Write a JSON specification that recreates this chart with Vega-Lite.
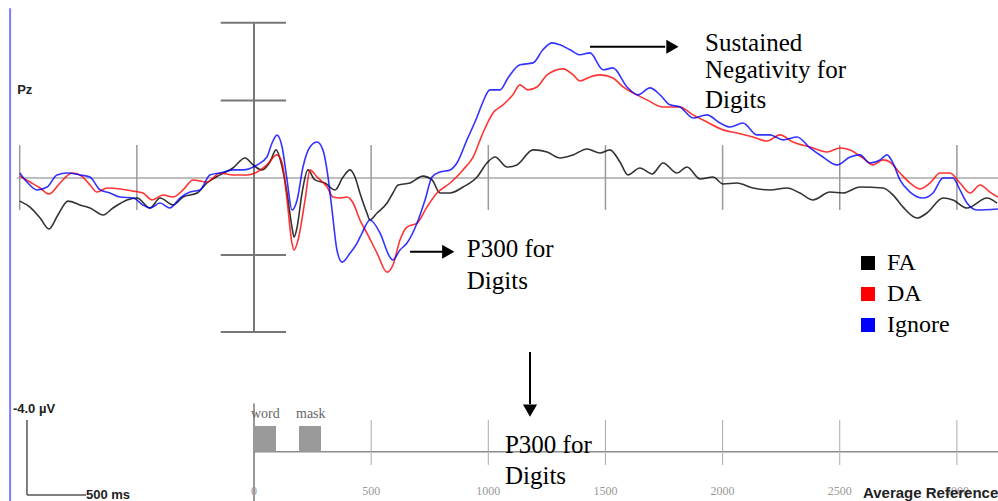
{
"$schema":"https://vega.github.io/schema/vega-lite/v6.json",
"width":998,"height":501,"autosize":"none","padding":0,"background":"#ffffff",
"config":{"view":{"stroke":null},"axis":{"disable":true}},
"datasets":{
"erp":[
{"cond":"FA","t":-1000,"uV":1.20},{"cond":"FA","t":-956,"uV":1.51},{"cond":"FA","t":-913,"uV":2.08},{"cond":"FA","t":-875,"uV":2.65},{"cond":"FA","t":-837,"uV":1.92},{"cond":"FA","t":-794,"uV":1.20},{"cond":"FA","t":-743,"uV":1.40},{"cond":"FA","t":-700,"uV":1.56},{"cond":"FA","t":-644,"uV":1.92},{"cond":"FA","t":-602,"uV":1.56},{"cond":"FA","t":-542,"uV":1.14},{"cond":"FA","t":-499,"uV":1.04},{"cond":"FA","t":-444,"uV":1.56},{"cond":"FA","t":-401,"uV":1.04},{"cond":"FA","t":-346,"uV":1.40},{"cond":"FA","t":-303,"uV":0.99},{"cond":"FA","t":-243,"uV":0.78},{"cond":"FA","t":-201,"uV":0.26},{"cond":"FA","t":-145,"uV":-0.16},{"cond":"FA","t":-90,"uV":-0.52},{"cond":"FA","t":-38,"uV":-1.04},{"cond":"FA","t":-4,"uV":-0.68},{"cond":"FA","t":34,"uV":-0.42},{"cond":"FA","t":68,"uV":-0.83},{"cond":"FA","t":94,"uV":-1.46},{"cond":"FA","t":120,"uV":-0.57},{"cond":"FA","t":141,"uV":0.78},{"cond":"FA","t":162,"uV":2.55},{"cond":"FA","t":171,"uV":3.07},{"cond":"FA","t":184,"uV":2.55},{"cond":"FA","t":205,"uV":0.78},{"cond":"FA","t":230,"uV":-0.42},{"cond":"FA","t":260,"uV":0.10},{"cond":"FA","t":303,"uV":0.26},{"cond":"FA","t":346,"uV":0.62},{"cond":"FA","t":380,"uV":-0.05},{"cond":"FA","t":410,"uV":-0.42},{"cond":"FA","t":431,"uV":-0.05},{"cond":"FA","t":452,"uV":0.78},{"cond":"FA","t":482,"uV":1.82},{"cond":"FA","t":495,"uV":2.18},{"cond":"FA","t":525,"uV":1.82},{"cond":"FA","t":568,"uV":1.30},{"cond":"FA","t":593,"uV":0.78},{"cond":"FA","t":615,"uV":0.36},{"cond":"FA","t":666,"uV":0.26},{"cond":"FA","t":721,"uV":-0.10},{"cond":"FA","t":760,"uV":0.10},{"cond":"FA","t":794,"uV":0.78},{"cond":"FA","t":837,"uV":0.78},{"cond":"FA","t":892,"uV":0.47},{"cond":"FA","t":952,"uV":-0.05},{"cond":"FA","t":994,"uV":-0.78},{"cond":"FA","t":1029,"uV":-1.09},{"cond":"FA","t":1080,"uV":-0.57},{"cond":"FA","t":1122,"uV":-0.68},{"cond":"FA","t":1191,"uV":-1.46},{"cond":"FA","t":1251,"uV":-1.35},{"cond":"FA","t":1306,"uV":-1.04},{"cond":"FA","t":1362,"uV":-1.20},{"cond":"FA","t":1421,"uV":-1.51},{"cond":"FA","t":1477,"uV":-1.30},{"cond":"FA","t":1519,"uV":-1.46},{"cond":"FA","t":1562,"uV":-0.83},{"cond":"FA","t":1596,"uV":-0.16},{"cond":"FA","t":1647,"uV":-0.52},{"cond":"FA","t":1699,"uV":-0.21},{"cond":"FA","t":1746,"uV":-0.78},{"cond":"FA","t":1805,"uV":-0.26},{"cond":"FA","t":1848,"uV":-0.57},{"cond":"FA","t":1904,"uV":0.05},{"cond":"FA","t":1959,"uV":-0.05},{"cond":"FA","t":2002,"uV":0.31},{"cond":"FA","t":2061,"uV":0.26},{"cond":"FA","t":2130,"uV":0.52},{"cond":"FA","t":2202,"uV":0.62},{"cond":"FA","t":2275,"uV":0.52},{"cond":"FA","t":2330,"uV":0.78},{"cond":"FA","t":2386,"uV":1.14},{"cond":"FA","t":2458,"uV":0.73},{"cond":"FA","t":2514,"uV":0.78},{"cond":"FA","t":2586,"uV":0.47},{"cond":"FA","t":2685,"uV":0.52},{"cond":"FA","t":2727,"uV":0.88},{"cond":"FA","t":2770,"uV":1.51},{"cond":"FA","t":2830,"uV":2.08},{"cond":"FA","t":2872,"uV":1.82},{"cond":"FA","t":2941,"uV":1.04},{"cond":"FA","t":2983,"uV":1.14},{"cond":"FA","t":3043,"uV":1.56},{"cond":"FA","t":3128,"uV":1.04},{"cond":"FA","t":3171,"uV":1.30},
{"cond":"DA","t":-1000,"uV":-0.10},{"cond":"DA","t":-956,"uV":0.21},{"cond":"DA","t":-913,"uV":0.52},{"cond":"DA","t":-875,"uV":0.83},{"cond":"DA","t":-828,"uV":0.26},{"cond":"DA","t":-777,"uV":-0.26},{"cond":"DA","t":-743,"uV":-0.16},{"cond":"DA","t":-700,"uV":0.36},{"cond":"DA","t":-670,"uV":0.73},{"cond":"DA","t":-627,"uV":0.52},{"cond":"DA","t":-572,"uV":0.57},{"cond":"DA","t":-516,"uV":0.68},{"cond":"DA","t":-474,"uV":0.78},{"cond":"DA","t":-435,"uV":1.14},{"cond":"DA","t":-388,"uV":0.88},{"cond":"DA","t":-346,"uV":0.99},{"cond":"DA","t":-303,"uV":0.62},{"cond":"DA","t":-260,"uV":0.10},{"cond":"DA","t":-201,"uV":0.21},{"cond":"DA","t":-145,"uV":-0.26},{"cond":"DA","t":-90,"uV":-0.16},{"cond":"DA","t":-30,"uV":-0.16},{"cond":"DA","t":13,"uV":-0.31},{"cond":"DA","t":55,"uV":-0.68},{"cond":"DA","t":98,"uV":-1.20},{"cond":"DA","t":120,"uV":-0.78},{"cond":"DA","t":141,"uV":1.14},{"cond":"DA","t":162,"uV":3.38},{"cond":"DA","t":171,"uV":3.74},{"cond":"DA","t":188,"uV":3.22},{"cond":"DA","t":218,"uV":1.14},{"cond":"DA","t":239,"uV":-0.42},{"cond":"DA","t":269,"uV":-0.05},{"cond":"DA","t":312,"uV":0.47},{"cond":"DA","t":337,"uV":0.99},{"cond":"DA","t":367,"uV":1.04},{"cond":"DA","t":397,"uV":0.99},{"cond":"DA","t":423,"uV":1.30},{"cond":"DA","t":452,"uV":2.18},{"cond":"DA","t":482,"uV":2.86},{"cond":"DA","t":525,"uV":3.90},{"cond":"DA","t":568,"uV":4.89},{"cond":"DA","t":593,"uV":4.52},{"cond":"DA","t":623,"uV":3.22},{"cond":"DA","t":653,"uV":2.55},{"cond":"DA","t":696,"uV":2.34},{"cond":"DA","t":738,"uV":1.51},{"cond":"DA","t":781,"uV":0.78},{"cond":"DA","t":837,"uV":0.26},{"cond":"DA","t":892,"uV":-0.42},{"cond":"DA","t":935,"uV":-1.09},{"cond":"DA","t":977,"uV":-2.34},{"cond":"DA","t":1020,"uV":-3.38},{"cond":"DA","t":1063,"uV":-3.80},{"cond":"DA","t":1105,"uV":-4.32},{"cond":"DA","t":1135,"uV":-4.84},{"cond":"DA","t":1169,"uV":-4.58},{"cond":"DA","t":1208,"uV":-4.73},{"cond":"DA","t":1251,"uV":-5.36},{"cond":"DA","t":1319,"uV":-5.67},{"cond":"DA","t":1362,"uV":-5.36},{"cond":"DA","t":1391,"uV":-5.04},{"cond":"DA","t":1434,"uV":-5.25},{"cond":"DA","t":1477,"uV":-5.36},{"cond":"DA","t":1532,"uV":-5.20},{"cond":"DA","t":1575,"uV":-4.73},{"cond":"DA","t":1618,"uV":-4.42},{"cond":"DA","t":1677,"uV":-4.06},{"cond":"DA","t":1746,"uV":-3.69},{"cond":"DA","t":1818,"uV":-3.69},{"cond":"DA","t":1874,"uV":-3.28},{"cond":"DA","t":1933,"uV":-2.91},{"cond":"DA","t":2002,"uV":-2.50},{"cond":"DA","t":2061,"uV":-2.34},{"cond":"DA","t":2130,"uV":-2.13},{"cond":"DA","t":2190,"uV":-1.92},{"cond":"DA","t":2245,"uV":-2.24},{"cond":"DA","t":2300,"uV":-1.87},{"cond":"DA","t":2373,"uV":-1.61},{"cond":"DA","t":2446,"uV":-1.35},{"cond":"DA","t":2501,"uV":-1.56},{"cond":"DA","t":2544,"uV":-1.46},{"cond":"DA","t":2599,"uV":-1.04},{"cond":"DA","t":2642,"uV":-0.68},{"cond":"DA","t":2685,"uV":-0.94},{"cond":"DA","t":2714,"uV":-0.83},{"cond":"DA","t":2757,"uV":-0.26},{"cond":"DA","t":2800,"uV":0.26},{"cond":"DA","t":2842,"uV":0.57},{"cond":"DA","t":2885,"uV":0.26},{"cond":"DA","t":2928,"uV":-0.26},{"cond":"DA","t":2970,"uV":-0.26},{"cond":"DA","t":3013,"uV":0.26},{"cond":"DA","t":3056,"uV":0.78},{"cond":"DA","t":3099,"uV":0.36},{"cond":"DA","t":3141,"uV":0.73},{"cond":"DA","t":3175,"uV":0.99},
{"cond":"Ignore","t":-1000,"uV":-0.26},{"cond":"Ignore","t":-969,"uV":0.21},{"cond":"Ignore","t":-926,"uV":0.62},{"cond":"Ignore","t":-883,"uV":0.47},{"cond":"Ignore","t":-841,"uV":-0.16},{"cond":"Ignore","t":-798,"uV":-0.26},{"cond":"Ignore","t":-743,"uV":-0.16},{"cond":"Ignore","t":-700,"uV":-0.05},{"cond":"Ignore","t":-657,"uV":0.62},{"cond":"Ignore","t":-615,"uV":0.78},{"cond":"Ignore","t":-572,"uV":0.99},{"cond":"Ignore","t":-516,"uV":1.04},{"cond":"Ignore","t":-474,"uV":1.40},{"cond":"Ignore","t":-444,"uV":1.56},{"cond":"Ignore","t":-401,"uV":1.30},{"cond":"Ignore","t":-359,"uV":1.56},{"cond":"Ignore","t":-316,"uV":1.04},{"cond":"Ignore","t":-273,"uV":0.73},{"cond":"Ignore","t":-230,"uV":0.62},{"cond":"Ignore","t":-188,"uV":-0.16},{"cond":"Ignore","t":-145,"uV":-0.26},{"cond":"Ignore","t":-90,"uV":-0.42},{"cond":"Ignore","t":-47,"uV":-0.42},{"cond":"Ignore","t":13,"uV":-0.68},{"cond":"Ignore","t":55,"uV":-1.09},{"cond":"Ignore","t":77,"uV":-1.82},{"cond":"Ignore","t":98,"uV":-2.23},{"cond":"Ignore","t":120,"uV":-1.61},{"cond":"Ignore","t":141,"uV":0.10},{"cond":"Ignore","t":162,"uV":1.66},{"cond":"Ignore","t":184,"uV":1.14},{"cond":"Ignore","t":209,"uV":-0.57},{"cond":"Ignore","t":239,"uV":-1.61},{"cond":"Ignore","t":269,"uV":-1.87},{"cond":"Ignore","t":294,"uV":-1.46},{"cond":"Ignore","t":316,"uV":-0.05},{"cond":"Ignore","t":333,"uV":1.66},{"cond":"Ignore","t":354,"uV":3.74},{"cond":"Ignore","t":376,"uV":4.37},{"cond":"Ignore","t":410,"uV":3.90},{"cond":"Ignore","t":440,"uV":3.38},{"cond":"Ignore","t":461,"uV":2.86},{"cond":"Ignore","t":495,"uV":2.18},{"cond":"Ignore","t":538,"uV":2.86},{"cond":"Ignore","t":580,"uV":4.11},{"cond":"Ignore","t":593,"uV":4.26},{"cond":"Ignore","t":623,"uV":3.74},{"cond":"Ignore","t":653,"uV":3.38},{"cond":"Ignore","t":696,"uV":2.34},{"cond":"Ignore","t":730,"uV":1.14},{"cond":"Ignore","t":760,"uV":-0.05},{"cond":"Ignore","t":794,"uV":-0.31},{"cond":"Ignore","t":837,"uV":-0.42},{"cond":"Ignore","t":866,"uV":-0.78},{"cond":"Ignore","t":909,"uV":-1.98},{"cond":"Ignore","t":952,"uV":-3.17},{"cond":"Ignore","t":977,"uV":-3.95},{"cond":"Ignore","t":1007,"uV":-4.58},{"cond":"Ignore","t":1050,"uV":-4.58},{"cond":"Ignore","t":1084,"uV":-5.20},{"cond":"Ignore","t":1135,"uV":-5.88},{"cond":"Ignore","t":1191,"uV":-5.98},{"cond":"Ignore","t":1233,"uV":-6.66},{"cond":"Ignore","t":1272,"uV":-7.02},{"cond":"Ignore","t":1306,"uV":-6.92},{"cond":"Ignore","t":1349,"uV":-6.66},{"cond":"Ignore","t":1391,"uV":-6.40},{"cond":"Ignore","t":1434,"uV":-6.50},{"cond":"Ignore","t":1490,"uV":-5.62},{"cond":"Ignore","t":1532,"uV":-5.72},{"cond":"Ignore","t":1592,"uV":-4.73},{"cond":"Ignore","t":1639,"uV":-4.32},{"cond":"Ignore","t":1690,"uV":-4.68},{"cond":"Ignore","t":1733,"uV":-4.32},{"cond":"Ignore","t":1775,"uV":-3.80},{"cond":"Ignore","t":1818,"uV":-3.69},{"cond":"Ignore","t":1874,"uV":-3.12},{"cond":"Ignore","t":1933,"uV":-3.28},{"cond":"Ignore","t":1989,"uV":-2.86},{"cond":"Ignore","t":2032,"uV":-2.65},{"cond":"Ignore","t":2087,"uV":-2.86},{"cond":"Ignore","t":2147,"uV":-2.24},{"cond":"Ignore","t":2202,"uV":-2.24},{"cond":"Ignore","t":2258,"uV":-1.98},{"cond":"Ignore","t":2318,"uV":-2.13},{"cond":"Ignore","t":2373,"uV":-1.56},{"cond":"Ignore","t":2428,"uV":-1.09},{"cond":"Ignore","t":2488,"uV":-0.68},{"cond":"Ignore","t":2544,"uV":-1.09},{"cond":"Ignore","t":2586,"uV":-1.20},{"cond":"Ignore","t":2629,"uV":-0.78},{"cond":"Ignore","t":2672,"uV":-0.94},{"cond":"Ignore","t":2702,"uV":-1.20},{"cond":"Ignore","t":2727,"uV":-0.78},{"cond":"Ignore","t":2757,"uV":0.10},{"cond":"Ignore","t":2800,"uV":0.73},{"cond":"Ignore","t":2855,"uV":1.04},{"cond":"Ignore","t":2898,"uV":0.78},{"cond":"Ignore","t":2941,"uV":0.00},{"cond":"Ignore","t":2983,"uV":0.00},{"cond":"Ignore","t":3013,"uV":0.62},{"cond":"Ignore","t":3043,"uV":1.30},{"cond":"Ignore","t":3086,"uV":1.66},{"cond":"Ignore","t":3175,"uV":1.61}
],
"smallTicks":[{"t":-1000},{"t":-500},{"t":500},{"t":1000},{"t":1500},{"t":2000},{"t":2500},{"t":3000}],
"calib":[{"uV":-8.07},{"uV":-4.02},{"uV":4.0},{"uV":8.0}],
"timeTicks":[{"t":0},{"t":500},{"t":1000},{"t":1500},{"t":2000},{"t":2500},{"t":3000}],
"stim":[{"stim":"word","on":0,"off":94},{"stim":"mask","on":192,"off":286}],
"notes":[{"t":1925,"uV":-6.60,"txt":"Sustained"},{"t":1925,"uV":-5.19,"txt":"Negativity for"},{"t":1925,"uV":-3.66,"txt":"Digits"},{"t":908,"uV":4.12,"txt":"P300 for"},{"t":908,"uV":5.78,"txt":"Digits"},{"t":1071,"uV":14.27,"txt":"P300 for"},{"t":1071,"uV":15.91,"txt":"Digits"}],
"arrows":[{"t":1434,"t2":1755,"uV":-6.82,"uV2":-6.82},{"t":666,"t2":805,"uV":3.83,"uV2":3.83},{"t":1178,"t2":1178,"uV":9.04,"uV2":11.75}],
"heads":[{"t":1786,"uV":-6.82,"dir":"right"},{"t":829,"uV":3.83,"dir":"right"},{"t":1178,"uV":12.08,"dir":"down"}]
},
"layer":[
{"data":{"values":[{}]},"mark":{"type":"rule","color":"#7c7cff","strokeWidth":2},
 "encoding":{"x":{"datum":-1041,"type":"quantitative","scale":{"domain":[-1084.1,3175.4],"nice":false,"zero":false},"axis":null},
  "y":{"datum":-8.82,"type":"quantitative","scale":{"domain":[-9.247,16.779],"nice":false,"zero":false,"reverse":true},"axis":null},"y2":{"datum":16.78}}},
{"data":{"values":[{}]},"mark":{"type":"rule","color":"#a8a8a8","strokeWidth":1.5},
 "encoding":{"x":{"datum":-1011,"type":"quantitative"},"x2":{"datum":3180},"y":{"datum":0,"type":"quantitative"}}},
{"data":{"name":"smallTicks"},"mark":{"type":"rule","color":"#9a9a9a","strokeWidth":1.5},
 "encoding":{"x":{"field":"t","type":"quantitative"},"y":{"datum":-1.71,"type":"quantitative"},"y2":{"datum":1.66}}},
{"data":{"values":[{}]},"mark":{"type":"rule","color":"#777777","strokeWidth":2},
 "encoding":{"x":{"datum":0,"type":"quantitative"},"y":{"datum":-8.07,"type":"quantitative"},"y2":{"datum":8.0}}},
{"data":{"name":"calib"},"mark":{"type":"rule","color":"#777777","strokeWidth":2},
 "encoding":{"x":{"datum":-142,"type":"quantitative"},"x2":{"datum":137},"y":{"field":"uV","type":"quantitative"}}},
{"data":{"values":[{}]},"mark":{"type":"rule","color":"#8c8c8c","strokeWidth":1.5},
 "encoding":{"x":{"datum":0,"type":"quantitative"},"x2":{"datum":3180},"y":{"datum":14.22,"type":"quantitative"}}},
{"data":{"values":[{}]},"mark":{"type":"rule","color":"#777777","strokeWidth":1.5},
 "encoding":{"x":{"datum":0,"type":"quantitative"},"y":{"datum":11.71,"type":"quantitative"},"y2":{"datum":16.8}}},
{"data":{"name":"timeTicks"},"transform":[{"filter":"datum.t > 0"}],"mark":{"type":"rule","color":"#aaaaaa","strokeWidth":1},
 "encoding":{"x":{"field":"t","type":"quantitative"},"y":{"datum":12.57,"type":"quantitative"},"y2":{"datum":14.91}}},
{"data":{"name":"timeTicks"},"mark":{"type":"text","font":"Liberation Serif","fontSize":12,"color":"#999999","align":"center","baseline":"middle"},
 "encoding":{"x":{"field":"t","type":"quantitative"},"y":{"datum":16.26,"type":"quantitative"},"text":{"field":"t","type":"quantitative","format":"d"}}},
{"data":{"name":"stim"},"mark":{"type":"rect","color":"#9a9a9a"},
 "encoding":{"x":{"field":"on","type":"quantitative"},"x2":{"field":"off"},"y":{"datum":12.88,"type":"quantitative"},"y2":{"datum":14.22}}},
{"data":{"name":"stim"},"mark":{"type":"text","font":"Liberation Serif","fontSize":14,"color":"#666666","align":"left","baseline":"alphabetic","dx":-3},
 "encoding":{"x":{"field":"on","type":"quantitative"},"y":{"datum":12.48,"type":"quantitative"},"text":{"field":"stim"}}},
{"data":{"values":[{}]},"mark":{"type":"rule","color":"#555555","strokeWidth":1.5},
 "encoding":{"x":{"datum":-969,"type":"quantitative"},"y":{"datum":12.57,"type":"quantitative"},"y2":{"datum":16.47}}},
{"data":{"values":[{}]},"mark":{"type":"rule","color":"#555555","strokeWidth":1.5},
 "encoding":{"x":{"datum":-969,"type":"quantitative"},"x2":{"datum":-717},"y":{"datum":16.47,"type":"quantitative"}}},
{"data":{"values":[{}]},"mark":{"type":"text","text":"-4.0 µV","font":"Liberation Sans","fontWeight":"bold","fontSize":13,"color":"#222222","align":"left","baseline":"alphabetic"},
 "encoding":{"x":{"datum":-1029,"type":"quantitative"},"y":{"datum":12.22,"type":"quantitative"}}},
{"data":{"values":[{}]},"mark":{"type":"text","text":"500 ms","font":"Liberation Sans","fontWeight":"bold","fontSize":13,"color":"#222222","align":"left","baseline":"middle"},
 "encoding":{"x":{"datum":-717,"type":"quantitative"},"y":{"datum":16.49,"type":"quantitative"}}},
{"data":{"values":[{}]},"mark":{"type":"text","text":"Pz","font":"Liberation Sans","fontWeight":"bold","fontSize":13,"color":"#222222","align":"left","baseline":"alphabetic"},
 "encoding":{"x":{"datum":-1011,"type":"quantitative"},"y":{"datum":-4.36,"type":"quantitative"}}},
{"data":{"values":[{}]},"mark":{"type":"text","text":"Average Reference","font":"Liberation Sans","fontWeight":"bold","fontSize":15,"color":"#222222","align":"left","baseline":"alphabetic"},
 "encoding":{"x":{"datum":2599,"type":"quantitative"},"y":{"datum":16.62,"type":"quantitative"}}},
{"data":{"name":"erp"},"mark":{"type":"line","strokeWidth":1.6,"interpolate":"monotone","strokeOpacity":0.8},
 "encoding":{"x":{"field":"t","type":"quantitative","scale":{"domain":[-1084.1,3175.4],"nice":false,"zero":false},"axis":null},
  "y":{"field":"uV","type":"quantitative","scale":{"domain":[-9.247,16.779],"nice":false,"zero":false,"reverse":true},"axis":null},
  "color":{"field":"cond","type":"nominal","scale":{"domain":["FA","DA","Ignore"],"range":["#000000","#ff0000","#0000ff"]},
   "legend":{"title":null,"orient":"none","legendX":856,"legendY":251,"symbolType":"square","symbolSize":49,"symbolStrokeWidth":7,"symbolOpacity":1,"labelFont":"Liberation Serif","labelFontSize":24,"labelColor":"#000000","labelOffset":7,"rowPadding":-5,"padding":0,
    "encode":{"symbols":{"update":{"strokeOpacity":{"value":1},"opacity":{"value":1}}}}}}}},
{"data":{"name":"arrows"},"mark":{"type":"rule","color":"#000000","strokeWidth":2},
 "encoding":{"x":{"field":"t","type":"quantitative"},"x2":{"field":"t2"},"y":{"field":"uV","type":"quantitative"},"y2":{"field":"uV2"}}},
{"data":{"name":"heads"},"mark":{"type":"point","filled":true,"color":"#000000","size":200,"opacity":1},
 "encoding":{"x":{"field":"t","type":"quantitative"},"y":{"field":"uV","type":"quantitative"},
  "shape":{"field":"dir","type":"nominal","scale":{"domain":["right","down"],"range":["triangle-right","triangle-down"]},"legend":null}}},
{"data":{"name":"notes"},"mark":{"type":"text","font":"Liberation Serif","fontSize":25,"color":"#000000","align":"left","baseline":"alphabetic"},
 "encoding":{"x":{"field":"t","type":"quantitative"},"y":{"field":"uV","type":"quantitative"},"text":{"field":"txt"}}}
]
}
